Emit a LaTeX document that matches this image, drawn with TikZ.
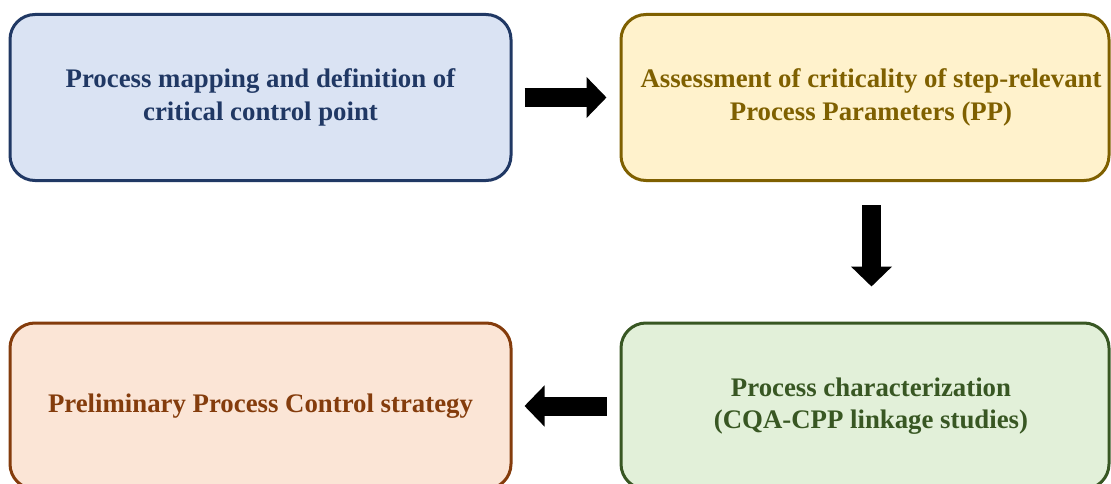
\documentclass[tikz,border=0pt]{standalone}
\usepackage{fontspec}
\setmainfont{Liberation Serif}
\usetikzlibrary{arrows.meta,calc}
\definecolor{mapline}{HTML}{203864}
\definecolor{mapfill}{HTML}{DAE3F3}
\definecolor{ppline}{HTML}{7F6000}
\definecolor{ppfill}{HTML}{FFF2CC}
\definecolor{charline}{HTML}{385723}
\definecolor{charfill}{HTML}{E2F0D9}
\definecolor{ctrlline}{HTML}{843C0C}
\definecolor{ctrlfill}{HTML}{FBE5D6}
\newcommand{\textnudge}{\hspace*{12pt}}
\begin{document}
\begin{tikzpicture}[x=1pt, y=-1pt,
		stagebox/.style={draw=#1line, fill=#1fill, text=#1line, line width=3pt, rounded corners=25pt,
			minimum height=166pt, align=center, font=\bfseries\fontsize{26.8}{32.5}\selectfont},
		blockarrow/.style={line width=19pt, -{Triangle[length=20pt, width=40pt]}}]
		\useasboundingbox (0,0) rectangle (1111,484);
		\node[stagebox=map, minimum width=501pt] (map) at (260.5,97.5) {Process mapping and definition of\\critical control point};
		\node[stagebox=pp, minimum width=488pt] (pp) at (865,97.5) {\textnudge Assessment of criticality of step-relevant\\\textnudge Process Parameters (PP)};
		\node[stagebox=char, minimum width=488pt] (char) at (865,406) {\textnudge Process characterization\\\textnudge (CQA-CPP linkage studies)};
		\node[stagebox=ctrl, minimum width=501pt] (ctrl) at (260.5,406) {Preliminary Process Control strategy};
		\draw[blockarrow] ([xshift=12pt]map.east) -- ([xshift=-13pt]pp.west);
		\draw[blockarrow] ($(pp.south)+(6.5,23)$) -- ($(char.north)+(6.5,-35)$);
		\draw[blockarrow] ([xshift=-13pt]char.west) -- ([xshift=12pt]ctrl.east);
\end{tikzpicture}
\end{document}
